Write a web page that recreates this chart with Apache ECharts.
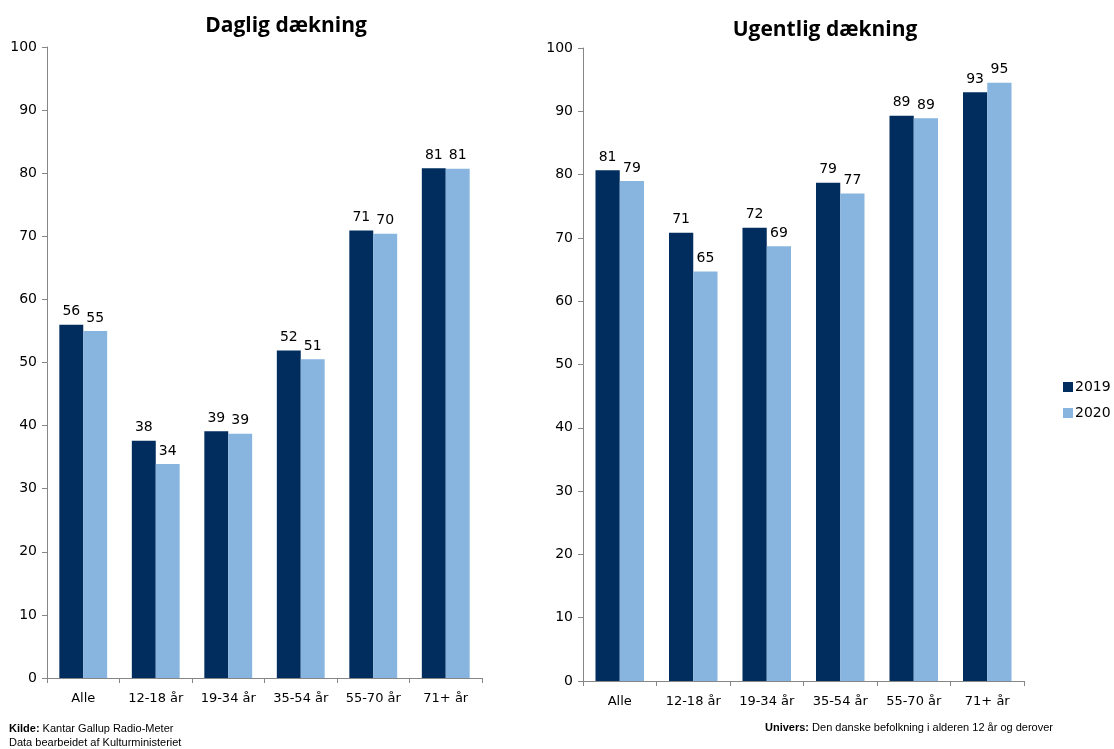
<!DOCTYPE html>
<html>
<head>
<meta charset="utf-8">
<script src="https://cdn.jsdelivr.net/npm/echarts@6/dist/echarts.min.js"></script>
<style>
  html, body { margin: 0; padding: 0; background: #fff; }
  #chart { width: 1114px; height: 749px; }
</style>
</head>
<body>
<div id="chart"></div>
<script>
const categories = ['Alle', '12-18 år', '19-34 år', '35-54 år', '55-70 år', '71+ år']
const seriesNames = ['2019', '2020']
const daily2019 = [56.0, 37.6, 39.1, 51.9, 70.9, 80.8]
const daily2020 = [55.0, 33.9, 38.7, 50.5, 70.4, 80.7]
const weekly2019 = [80.7, 70.8, 71.6, 78.7, 89.3, 93.0]
const weekly2020 = [79.0, 64.7, 68.7, 77.0, 88.9, 94.5]
const yTicks = [0, 10, 20, 30, 40, 50, 60, 70, 80, 90, 100]

const DARK = '#002D5E'
const LIGHT = '#87B5DF'
const AXIS = '#868686'
const LABEL_FONT = 'Verdana, "DejaVu Sans", sans-serif'
const NOTE_FONT = '"Liberation Sans", Arial, sans-serif'

function yAxis(gridIndex) {
  return {
    type: 'value',
    gridIndex,
    min: yTicks[0],
    max: yTicks[yTicks.length - 1],
    interval: 10,
    axisLine: { show: true, lineStyle: { color: AXIS } },
    axisTick: { show: true, length: 5, lineStyle: { color: AXIS } },
    splitLine: { show: false },
    axisLabel: { color: '#000', fontSize: 14, fontFamily: LABEL_FONT, margin: 10 },
  }
}

function xAxis(gridIndex) {
  return {
    type: 'category',
    gridIndex,
    data: categories,
    axisLine: { lineStyle: { color: AXIS } },
    axisTick: { show: true, length: 5, lineStyle: { color: AXIS } },
    axisLabel: { color: '#000', fontSize: 13, fontFamily: LABEL_FONT, margin: 14 },
  }
}

function barSeries(name, data, color, idx) {
  return {
    name,
    type: 'bar',
    xAxisIndex: idx,
    yAxisIndex: idx,
    data,
    barGap: '0%',
    barCategoryGap: '34%',
    itemStyle: { color },
    label: {
      show: true,
      position: 'top',
      distance: 6,
      color: '#000',
      fontSize: 14,
      fontFamily: LABEL_FONT,
      formatter: p => Math.round(p.value),
    },
  }
}

const chart = echarts.init(document.getElementById('chart'))
chart.setOption({
  animation: false,
  title: [
    {
      text: 'Daglig dækning',
      left: 281, top: 11, textAlign: 'center',
      textStyle: { fontSize: 21, fontWeight: 'bold', color: '#000', fontFamily: '"Open Sans", sans-serif' },
    },
    {
      text: 'Ugentlig dækning',
      left: 820, top: 15, textAlign: 'center',
      textStyle: { fontSize: 21, fontWeight: 'bold', color: '#000', fontFamily: '"Open Sans", sans-serif' },
    },
    {
      text: '{b|Kilde:} Kantar Gallup Radio-Meter\nData bearbeidet af Kulturministeriet',
      left: 9, top: 722, padding: 0,
      textStyle: {
        fontSize: 11, fontWeight: 'normal', color: '#000', fontFamily: NOTE_FONT, lineHeight: 14,
        rich: { b: { fontWeight: 'bold', fontSize: 11, fontFamily: NOTE_FONT, lineHeight: 14 } },
      },
    },
    {
      text: '{b|Univers:} Den danske befolkning i alderen 12 år og derover',
      left: 765, top: 722, padding: 0,
      textStyle: {
        fontSize: 11, fontWeight: 'normal', color: '#000', fontFamily: NOTE_FONT,
        rich: { b: { fontWeight: 'bold', fontSize: 11, fontFamily: NOTE_FONT } },
      },
    },
  ],
  legend: {
    orient: 'vertical',
    left: 1058,
    top: 375,
    icon: 'rect',
    itemWidth: 10,
    itemHeight: 10,
    itemGap: 12,
    data: seriesNames,
    textStyle: { fontSize: 14, color: '#000', fontFamily: LABEL_FONT, padding: [0, 0, 0, -3] },
  },
  grid: [
    { left: 47, top: 47, width: 435, height: 631 },
    { left: 583, top: 48, width: 441, height: 633 },
  ],
  xAxis: [xAxis(0), xAxis(1)],
  yAxis: [yAxis(0), yAxis(1)],
  series: [
    barSeries(seriesNames[0], daily2019, DARK, 0),
    barSeries(seriesNames[1], daily2020, LIGHT, 0),
    barSeries(seriesNames[0], weekly2019, DARK, 1),
    barSeries(seriesNames[1], weekly2020, LIGHT, 1),
  ],
})
</script>
</body>
</html>
